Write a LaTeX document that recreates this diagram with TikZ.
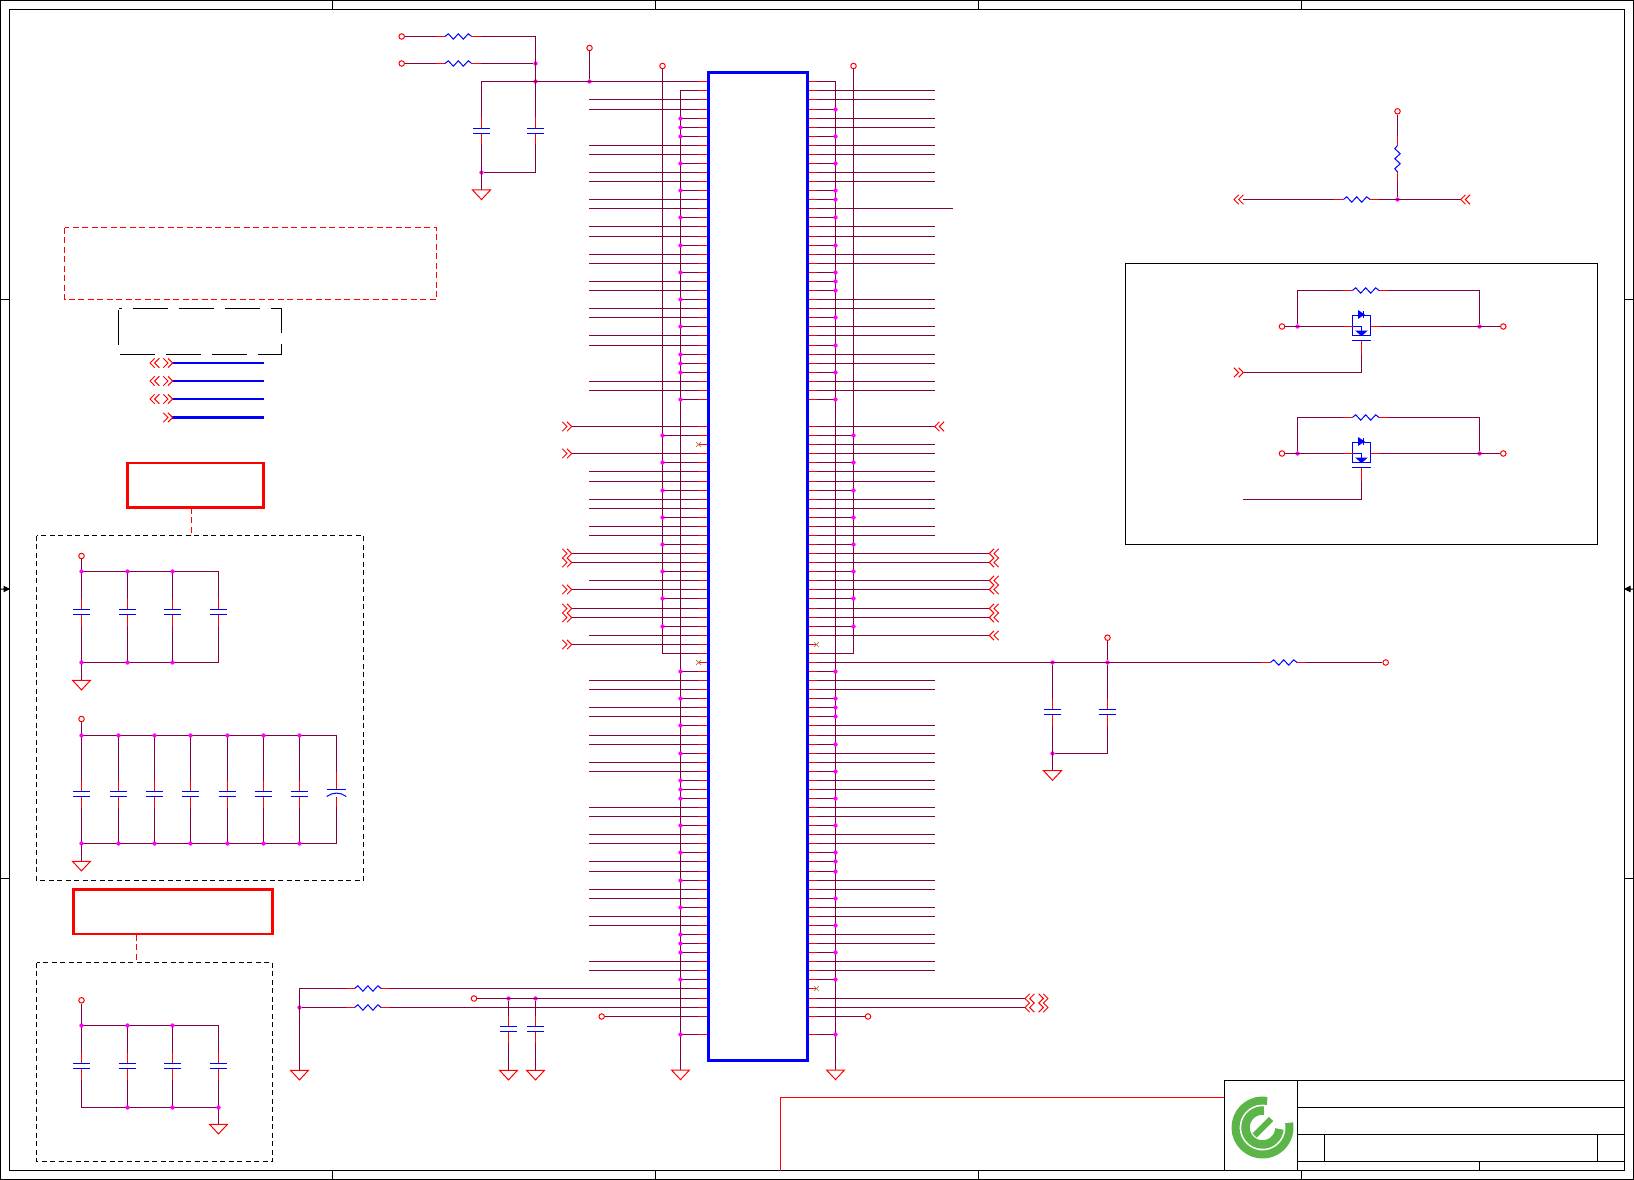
\documentclass[tikz,border=0pt]{standalone}
\usepackage{tikz}

\definecolor{fiocor}{HTML}{800040}
\definecolor{logocor}{HTML}{5BB548}
\definecolor{nccor}{HTML}{B07840}
\definecolor{pontocor}{HTML}{FF00FF}

\tikzset{
  fio/.style={draw=fiocor, line width=1pt},
  pino/.style={draw=red, line width=1pt},
  azul/.style={draw=blue, line width=1pt},
  preto/.style={draw=black, line width=1pt},
  borda/.style={draw=red, line width=2.6pt},
  tracejado/.style={draw=black, line width=1pt, dash pattern=on 5pt off 3.5pt},
  tracovermelho/.style={draw=red, line width=1pt, dash pattern=on 6pt off 3.5pt},
  barra/.style={draw=blue, line width=2pt},
  terminal/.style={circle, draw=red, line width=1pt, fill=white, inner sep=0pt, minimum size=5.5pt},
  ponto/.style={circle, fill=pontocor, inner sep=0pt, minimum size=4.4pt},
  chipbox/.style={draw=blue, fill=white, line width=3pt, outer sep=0pt, inner sep=0pt},
  logotraco/.style={draw=logocor, line cap=butt},
  % simbolos
  resistor/.pic={
    \draw[white, line width=2pt] (-13.3,0) -- (13.3,0);
    \draw[pino] (-22.4,0) -- (-13.3,0) (13.3,0) -- (22.4,0);
    \draw[azul] (-13.3,0) -- (-10,-2.7) -- (-5,2.7) -- (0,-2.7) -- (5,2.7) -- (10,-2.7) -- (13.3,0);
  },
  capacitor/.pic={
    \draw[white, line width=3pt] (0,-2.5) -- (0,2.5);
    \draw[pino] (0,-13.5) -- (0,-2.5) (0,2.5) -- (0,13.5);
    \draw[azul] (-8.7,-2.5) -- (8.7,-2.5) (-8.7,2.5) -- (8.7,2.5);
  },
  polarizado/.pic={
    \draw[white, line width=3pt] (0,-4) -- (0,4);
    \draw[pino] (0,-21) -- (0,-4) (0,5) -- (0,14);
    \draw[azul] (-9.7,-4) -- (9.7,-4);
    \draw[azul] (-9.8,3.5) .. controls (-4,-1) and (4,-1) .. (9.8,3.5);
  },
  terra/.pic={
    \draw[draw=red, line width=1pt] (-9,0) -- (9,0) -- (0,9.6) -- cycle;
  },
  setadir/.pic={
    \draw[draw=red, line width=1pt] (-4.7,-4.7) -- (0,0) -- (-4.7,4.7) (-9.4,-4.7) -- (-4.7,0) -- (-9.4,4.7);
  },
  setaesq/.pic={
    \draw[draw=red, line width=1pt] (4.7,-4.7) -- (0,0) -- (4.7,4.7) (9.4,-4.7) -- (4.7,0) -- (9.4,4.7);
  },
  semconexao/.pic={
    \draw[draw=nccor, line width=.7pt] (-2.5,-2.5) -- (2.5,2.5) (-2.5,2.5) -- (2.5,-2.5);
  },
  chave/.pic={
    \draw[azul, fill=white] (-9,-11) rectangle (9,9);
    \draw[pino] (-18,0) -- (-9,0) (9,0) -- (18,0) (0,14) -- (0,27);
    \draw[azul] (-9,0) -- (0,0) -- (0,4.5);
    \draw[azul, fill=blue] (-5,4.5) -- (5,4.5) -- (0,9) -- cycle;
    \draw[azul, fill=blue] (-3,-15.5) -- (2.4,-12) -- (-3,-8.5) -- cycle;
    \draw[azul] (2.4,-15.5) -- (2.4,-8.5);
    \draw[azul] (-10,14) -- (9.4,14);
  }
}

\begin{document}
\begin{tikzpicture}[x=1pt, y=-1pt]
\useasboundingbox (0,0) rectangle (1634,1180);

% Moldura
\draw[preto] (.5,.5) rectangle (1633.5,1179.5);
\draw[preto] (9.5,9.5) rectangle (1624.5,1170.5);
\foreach \x in {332.5,655.5,978.5,1301.5}{
  \draw[preto] (\x,.5) -- (\x,9.5);
  \draw[preto] (\x,1170.5) -- (\x,1179.5);
}
\foreach \y in {299.5,878.5}{
  \draw[preto] (.5,\y) -- (9.5,\y);
  \draw[preto] (1624.5,\y) -- (1633.5,\y);
}
\draw[preto, fill=black] (.5,589) -- (4,589) (4,586.5) -- (9,589) -- (4,591.5) -- cycle;
\draw[preto, fill=black] (1633.5,589) -- (1630,589) (1630,586.5) -- (1625,589) -- (1630,591.5) -- cycle;

% Pinos do chip
\foreach \n in {0,...,105}{
  \pgfmathsetmacro{\yy}{81.5+9*\n+(\n>=3)+(\n>=17)+(\n>=29)+(\n>=44)+(\n>=58)+(\n>=72)+(\n>=87)+(\n>=101)}
  \coordinate (pe\n) at (708,\yy);
  \coordinate (pd\n) at (807.5,\yy);
}

% Barramentos de terra e alimentacao
\draw[fio] (pe1) -- ++(-27.5,0) -- (680.5,1070) pic {terra};
\draw[fio] (pd0) -- ++(28,0) -- (835.5,1070) pic {terra};
\node[terminal] (vcce) at (662.5,66) {};
\node[terminal] (vccd) at (853.5,66) {};
\draw[fio] (vcce) |- (pe63);
\draw[fio] (vccd) |- (pd63);

% Sinais do lado esquerdo
\foreach \n in {2,3,7,8,10,11,13,14,16,17,19,20,22,23,25,26,28,29,33,34,43,44,46,47,49,50,55,61,66,67,69,70,72,73,75,76,80,81,83,84,86,87,89,90,92,93,97,98}
  \draw[fio] (pe\n) -- ++(-118.7,0);
\foreach \n in {38,41,52,53,56,58,59,62}
  \draw[fio] (pe\n) -- ++(-136.3,0) pic {setadir};
\foreach \n in {4,5,6,9,12,15,18,21,24,27,30,31,32,35,65,68,71,74,77,78,79,82,85,88,91,94,95,96,99,105}
  \draw[fio] (pe\n) -- ++(-27.5,0) node[ponto] (te\n) {};
\foreach \n in {39,42,45,48,51,54,57,60}
  \draw[fio] (pe\n) -- ++(-45.5,0) node[ponto] (ve\n) {};

% Sinais do lado direito
\foreach \n in {1,2,4,5,7,8,10,11,16,17,19,20,24,25,27,28,30,31,33,34,40,41,43,44,46,47,49,50,66,67,71,72,74,75,77,78,80,81,83,84,88,89,91,92,94,95,97,98}
  \draw[fio] (pd\n) -- ++(127.2,0);
\foreach \n in {52,53,55,56,58,59,61}
  \draw[fio] (pd\n) -- ++(181.8,0) pic {setaesq};
\foreach \n in {3,6,9,12,13,15,18,21,22,23,26,29,32,35,65,68,69,70,73,76,79,82,85,86,87,90,93,96,99,105}
  \draw[fio] (pd\n) -- ++(28,0) node[ponto] (td\n) {};
\foreach \n in {39,42,45,48,51,54,57,60}
  \draw[fio] (pd\n) -- ++(46,0) node[ponto] (vd\n) {};
\draw[fio] (pd14) -- ++(145.2,0);
\draw[fio] (pd38) -- ++(127.2,0) pic {setaesq};
\draw[fio] (pd101) -- ++(217.5,0) pic {setaesq};
\draw[fio] (pd102) -- ++(217.5,0) pic {setaesq};
\pic at (1048,998.5) {setadir};
\pic at (1048,1007.5) {setadir};
\node[terminal] (sd) at (868,1016.5) {};
\draw[fio] (pd103) -- (sd);

% Entrada superior esquerda
\node[terminal] (ea) at (401.7,36.5) {};
\node[terminal] (eb) at (401.7,63.5) {};
\node[terminal] (ec) at (589.5,48) {};
\node[ponto] (ja) at (535.5,63.5) {};
\node[ponto] (jb) at (535.5,81.5) {};
\node[ponto] (jc) at (589.5,81.5) {};
\node[ponto] (jd) at (481.5,172.5) {};
\draw[fio] (ea) -| (535.5,172.5) -- (jd);
\draw[fio] (eb) -- (ja);
\draw[fio] (ec) -- (jc);
\draw[fio] (pe0) -- (481.5,81.5) -- (481.5,190) pic {terra};
\pic at (458.3,36.5) {resistor};
\pic at (458.3,63.5) {resistor};
\pic at (481.5,131) {capacitor};
\pic at (535.5,131) {capacitor};

% Divisor superior direito
\node[terminal] (ed) at (1397.5,111.3) {};
\node[ponto] (je) at (1397.5,199.5) {};
\coordinate (sa) at (1243.3,199.5);
\coordinate (sb) at (1460.7,199.5);
\draw[fio] (ed) -- (je);
\draw[fio] (sa) -- (sb);
\pic at (1234,199.5) {setaesq};
\pic at (1460.7,199.5) {setaesq};
\pic at (1356.7,199.5) {resistor};
\pic[rotate=90] at (1397.5,158.7) {resistor};

% Caixa das chaves
\draw[preto] (1125.5,263.5) rectangle (1597.5,544.5);
\foreach \y/\nome in {290.5/a,417.5/b}{
  \node[terminal] (ce\nome) at (1282,\y+36) {};
  \node[terminal] (cd\nome) at (1503.3,\y+36) {};
  \node[ponto] (pa\nome) at (1297.5,\y+36) {};
  \node[ponto] (pb\nome) at (1479.5,\y+36) {};
  \draw[fio] (ce\nome) -- (cd\nome);
  \draw[fio] (pa\nome) |- (1479.5,\y) -- (pb\nome);
  \draw[fio] (1243.3,\y+82) -| (1361.5,\y+50);
  \pic at (1365.7,\y) {resistor};
  \pic at (1361.5,\y+36) {chave};
}
\pic at (1243.3,372.5) {setadir};

% Linhas azuis
\foreach \y in {363,381,399}{
  \draw[barra] (172,\y) -- (264.3,\y);
  \pic at (150,\y) {setaesq};
  \pic at (172.7,\y) {setadir};
}
\draw[draw=blue, line width=3pt] (172,417.5) -- (264.3,417.5);
\pic at (172.7,417.5) {setadir};

% Caixas de aviso
\draw[tracovermelho] (64.5,227.5) rectangle (436.5,299.5);
\draw[preto, dash pattern=on 35pt off 11pt, dash phase=32pt] (118.5,308.5) -- (281.5,308.5) -- (281.5,354.5) -- (118.5,354.5) -- cycle;
\node[borda, minimum width=135.6pt, minimum height=44.4pt, inner sep=0pt, outer sep=0pt] (avisoa) at (195.5,485) {};
\node[borda, minimum width=198.5pt, minimum height=44.7pt, inner sep=0pt, outer sep=0pt] (avisob) at (173,911.8) {};
\draw[tracejado] (36.5,535.5) rectangle (363.5,880.5);
\draw[tracejado] (36.5,962.5) rectangle (272.5,1161.5);
\draw[tracovermelho] (191.5,507.7) -- (191.5,535.5);
\draw[tracovermelho] (136.5,934.7) -- (136.5,962.5);

% Bloco de capacitores 1
\node[terminal] (va) at (81.5,556) {};
\draw[fio] (va) -- (81.5,680.3) pic {terra};
\draw[fio] (81.5,571.5) -- (218.5,571.5) -- (218.5,662.5) -- (81.5,662.5);
\foreach \x/\nome in {127.5/b,172.5/c}
  \draw[fio] (\x,571.5) -- (\x,662.5);
\foreach \x/\nome in {81.5/a,127.5/b,172.5/c}{
  \node[ponto] (ba\nome) at (\x,571.5) {};
  \node[ponto] (ca\nome) at (\x,662.5) {};
}
\foreach \x in {81.5,127.5,172.5,218.5}
  \pic at (\x,612) {capacitor};

% Bloco de capacitores 2
\node[terminal] (vb) at (81.5,719) {};
\draw[fio] (vb) -- (81.5,861.3) pic {terra};
\draw[fio] (81.5,735.5) -- (336.5,735.5) -- (336.5,843.5) -- (81.5,843.5);
\foreach \x/\nome in {81.5/a,118.5/b,154.5/c,190.5/d,227.5/e,263.5/f,299.5/g}{
  \draw[fio] (\x,735.5) -- (\x,843.5);
  \node[ponto] (bb\nome) at (\x,735.5) {};
  \node[ponto] (cb\nome) at (\x,843.5) {};
  \pic at (\x,794) {capacitor};
}
\pic at (336.5,793) {polarizado};

% Bloco de capacitores 3
\node[terminal] (vc) at (81.5,1000.3) {};
\draw[fio] (vc) -- (81.5,1107.5) -- (218.5,1107.5) -- (218.5,1025.5) -- (81.5,1025.5);
\draw[fio] (218.5,1107.5) -- (218.5,1124.3) pic {terra};
\foreach \x/\nome in {127.5/b,172.5/c}
  \draw[fio] (\x,1025.5) -- (\x,1107.5);
\foreach \x/\nome in {81.5/a,127.5/b,172.5/c}
  \node[ponto] (bc\nome) at (\x,1025.5) {};
\foreach \x/\nome in {127.5/b,172.5/c,218.5/d}
  \node[ponto] (cc\nome) at (\x,1107.5) {};
\foreach \x in {81.5,127.5,172.5,218.5}
  \pic at (\x,1066) {capacitor};

% Parte inferior esquerda do chip
\node[ponto] (ji) at (299.5,1007.5) {};
\draw[fio] (pe100) -- (299.5,988.5) -- (299.5,1070.3) pic {terra};
\draw[fio] (ji) -- (pe102);
\pic at (367.9,988.5) {resistor};
\pic at (367.9,1007.5) {resistor};
\node[terminal] (ee) at (474,998.5) {};
\node[ponto] (jf) at (508.5,998.5) {};
\node[ponto] (jg) at (535.5,998.5) {};
\draw[fio] (ee) -- (pe101);
\draw[fio] (jf) -- (508.5,1070.3) pic {terra};
\draw[fio] (jg) -- (535.5,1070.3) pic {terra};
\pic at (508.5,1029) {capacitor};
\pic at (535.5,1029) {capacitor};
\node[terminal] (ef) at (601.7,1016.5) {};
\draw[fio] (ef) -- (pe103);

% Saida da direita
\node[terminal] (eg) at (1107.5,637.7) {};
\node[terminal] (eh) at (1385.7,662.5) {};
\node[ponto] (jh) at (1052.5,662.5) {};
\node[ponto] (jj) at (1107.5,662.5) {};
\node[ponto] (jk) at (1052.5,753.5) {};
\draw[fio] (pd64) -- (eh);
\draw[fio] (eg) -- (jj);
\draw[fio] (jj) |- (jk);
\draw[fio] (jh) -- (1052.5,770.7) pic {terra};
\pic at (1052.5,712) {capacitor};
\pic at (1107.5,712) {capacitor};
\pic at (1283.7,662.5) {resistor};

% Pontas vermelhas dos pinos
\foreach \n in {0,...,35,38,39,...,103,105}{
  \draw[pino] (pe\n) -- ++(-9.7,0);
  \draw[pino] (pd\n) -- ++(9.7,0);
}
\pic at (698.7,444.5) {semconexao};
\pic at (698.7,662.5) {semconexao};
\pic at (816.5,644.5) {semconexao};
\pic at (816.5,988.5) {semconexao};

% Chip
\node[chipbox, minimum width=99.5pt, minimum height=988pt] (chip) at (757.75,566.5) {};

% Legenda
\draw[draw=red, line width=1pt] (780.5,1170.5) -- (780.5,1097.5) -- (1224.5,1097.5) -- (1224.5,1170.5);
\draw[preto] (1224.5,1080.5) rectangle (1624.5,1170.5);
\draw[preto] (1297.5,1080.5) -- (1297.5,1170.5);
\draw[preto] (1297.5,1107.5) -- (1624.5,1107.5);
\draw[preto] (1297.5,1134.5) -- (1624.5,1134.5);
\draw[preto] (1297.5,1161.5) -- (1624.5,1161.5);
\draw[preto] (1324.5,1134.5) -- (1324.5,1161.5);
\draw[preto] (1597.5,1134.5) -- (1597.5,1161.5);
\draw[preto] (1479.5,1161.5) -- (1479.5,1170.5);

% Logotipo
\begin{scope}[shift={(1262.5,1127.5)}, y=1pt]
\draw[logotraco, line width=8pt] (80:27) arc[start angle=80, end angle=370, radius=27];
\draw[logotraco, line width=8.5pt] (85:17) arc[start angle=85, end angle=355, radius=17];
\draw[logotraco, line width=6pt] (-8,-8) -- (8.5,8.5);
\end{scope}

\end{tikzpicture}
\end{document}
